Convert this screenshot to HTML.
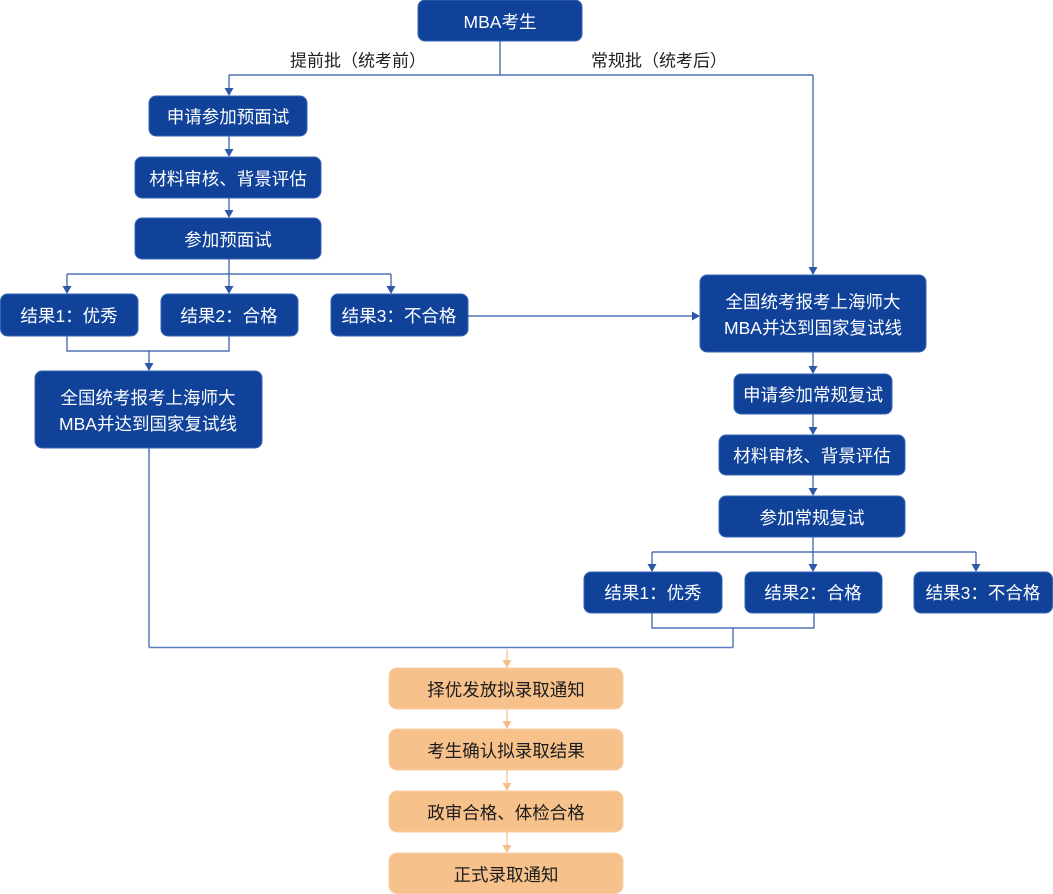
<!DOCTYPE html>
<html>
<head>
<meta charset="utf-8">
<style>
  html,body{margin:0;padding:0;background:#fff;}
  svg{display:block;}
  text{font-family:"Liberation Sans","Noto Sans CJK SC",sans-serif;}
  .b{fill:#10429a;stroke:#3565b5;stroke-width:1;}
  .o{fill:#f6c18b;stroke:#f8cfa4;stroke-width:1;}
  .t{fill:#fff;font-size:17.5px;text-anchor:middle;dominant-baseline:central;}
  .d{fill:#1c1c1c;font-size:17.5px;text-anchor:middle;dominant-baseline:central;}
  .l{fill:#222;font-size:17px;text-anchor:middle;dominant-baseline:central;}
  .ln{fill:none;stroke:#2d58a8;stroke-width:1.2;}
  .lo{fill:none;stroke:#f4bf88;stroke-width:1.2;}
  .ab{fill:#2d58a8;}
  .ao{fill:#f4bf88;}
</style>
</head>
<body>
<svg width="1053" height="894" viewBox="0 0 1053 894" xmlns="http://www.w3.org/2000/svg">
  <!-- connectors (blue) -->
  <path class="ln" d="M500 41 V75 M229 75 H813 M229 75 V90 M813 75 V270"/>
  <polygon class="ab" points="224.5,88 233.5,88 229,96"/>
  <polygon class="ab" points="808.5,267 817.5,267 813,275"/>

  <path class="ln" d="M229 136 V151"/>
  <polygon class="ab" points="224.5,149 233.5,149 229,157"/>
  <path class="ln" d="M229 198 V212"/>
  <polygon class="ab" points="224.5,210 233.5,210 229,218"/>

  <path class="ln" d="M229 259 V288 M67 274 H391 M67 274 V288 M391 274 V288"/>
  <polygon class="ab" points="62.5,286 71.5,286 67,294"/>
  <polygon class="ab" points="224.5,286 233.5,286 229,294"/>
  <polygon class="ab" points="386.5,286 395.5,286 391,294"/>

  <path class="ln" d="M468 316 H694"/>
  <polygon class="ab" points="692,311.5 692,320.5 700,316"/>

  <path class="ln" d="M67 336 V351 H229 V336 M149 351 V365"/>
  <polygon class="ab" points="144.5,363 153.5,363 149,371"/>

  <path class="ln" d="M149 448 V647.5"/>
  <path fill="none" stroke="#5a7fc3" stroke-width="1.5" d="M149 647.5 H733"/>
  <path class="ln" d="M733 647.5 V628 M652 613 V628 H814 V613"/>

  <path class="ln" d="M813 352 V368"/>
  <polygon class="ab" points="808.5,366 817.5,366 813,374"/>
  <path class="ln" d="M813 414 V429"/>
  <polygon class="ab" points="808.5,427 817.5,427 813,435"/>
  <path class="ln" d="M813 475 V490"/>
  <polygon class="ab" points="808.5,488 817.5,488 813,496"/>

  <path class="ln" d="M813 537 V566 M652 552 H976 M652 552 V566 M976 552 V566"/>
  <polygon class="ab" points="647.5,564 656.5,564 652,572"/>
  <polygon class="ab" points="808.5,564 817.5,564 813,572"/>
  <polygon class="ab" points="971.5,564 980.5,564 976,572"/>

  <!-- orange connectors -->
  <path class="lo" d="M507 649 V662"/>
  <polygon class="ao" points="502.5,660 511.5,660 507,668"/>
  <path class="lo" d="M507 709 V723"/>
  <polygon class="ao" points="502.5,721 511.5,721 507,729"/>
  <path class="lo" d="M507 770 V785"/>
  <polygon class="ao" points="502.5,783 511.5,783 507,791"/>
  <path class="lo" d="M507 832 V847"/>
  <polygon class="ao" points="502.5,845 511.5,845 507,853"/>

  <!-- labels -->
  <text class="l" x="358" y="61">提前批（统考前）</text>
  <text class="l" x="659" y="61">常规批（统考后）</text>

  <!-- top -->
  <rect class="b" x="418" y="0" width="164" height="41" rx="7"/>
  <text class="t" x="500" y="22">MBA考生</text>

  <!-- left column -->
  <rect class="b" x="149" y="96" width="158" height="40" rx="7"/>
  <text class="t" x="228" y="117">申请参加预面试</text>
  <rect class="b" x="135" y="157" width="186" height="41" rx="7"/>
  <text class="t" x="228" y="179">材料审核、背景评估</text>
  <rect class="b" x="135" y="218" width="186" height="41" rx="7"/>
  <text class="t" x="228" y="240">参加预面试</text>

  <rect class="b" x="0.5" y="294" width="137.5" height="42" rx="7"/>
  <text class="t" x="69" y="316">结果1：优秀</text>
  <rect class="b" x="161" y="294" width="137" height="42" rx="7"/>
  <text class="t" x="229" y="316">结果2：合格</text>
  <rect class="b" x="331" y="294" width="137" height="42" rx="7"/>
  <text class="t" x="399" y="316">结果3：不合格</text>

  <rect class="b" x="35" y="371" width="227" height="77" rx="7"/>
  <text class="t" x="148" y="398">全国统考报考上海师大</text>
  <text class="t" x="148" y="424">MBA并达到国家复试线</text>

  <!-- right column -->
  <rect class="b" x="700" y="275" width="226" height="77" rx="7"/>
  <text class="t" x="813" y="302">全国统考报考上海师大</text>
  <text class="t" x="813" y="328">MBA并达到国家复试线</text>

  <rect class="b" x="734" y="374" width="158" height="40" rx="7"/>
  <text class="t" x="813" y="395">申请参加常规复试</text>
  <rect class="b" x="719" y="435" width="186" height="40" rx="7"/>
  <text class="t" x="812" y="456">材料审核、背景评估</text>
  <rect class="b" x="719" y="496" width="186" height="41" rx="7"/>
  <text class="t" x="812" y="518">参加常规复试</text>

  <rect class="b" x="584" y="572" width="138" height="41" rx="7"/>
  <text class="t" x="653" y="593">结果1：优秀</text>
  <rect class="b" x="745" y="572" width="137" height="41" rx="7"/>
  <text class="t" x="813" y="593">结果2：合格</text>
  <rect class="b" x="914" y="572" width="138.5" height="41" rx="7"/>
  <text class="t" x="983" y="593">结果3：不合格</text>

  <!-- orange column -->
  <rect class="o" x="389" y="668" width="234" height="41" rx="8"/>
  <text class="d" x="506" y="690">择优发放拟录取通知</text>
  <rect class="o" x="389" y="729" width="234" height="41" rx="8"/>
  <text class="d" x="506" y="751">考生确认拟录取结果</text>
  <rect class="o" x="389" y="791" width="234" height="41" rx="8"/>
  <text class="d" x="506" y="813">政审合格、体检合格</text>
  <rect class="o" x="389" y="853" width="234" height="40.5" rx="8"/>
  <text class="d" x="506" y="875">正式录取通知</text>
</svg>
</body>
</html>
